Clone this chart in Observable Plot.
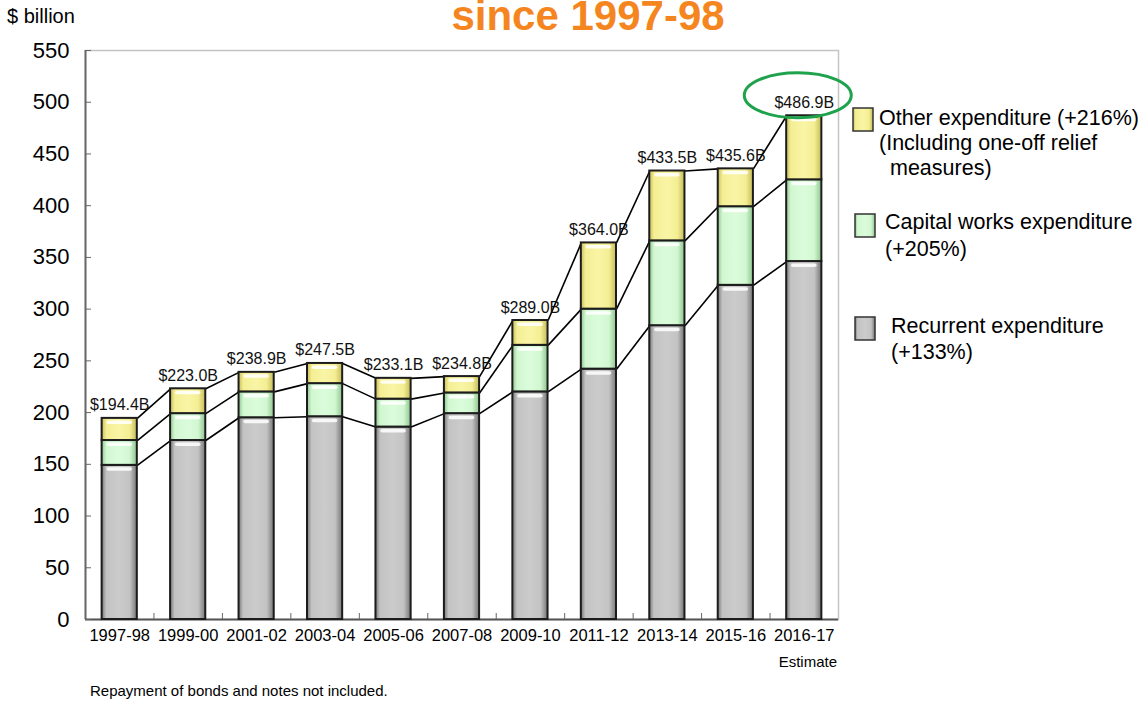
<!DOCTYPE html>
<html>
<head>
<meta charset="utf-8">
<script src="https://cdn.jsdelivr.net/npm/d3@7"></script>
<script src="https://cdn.jsdelivr.net/npm/@observablehq/plot@0.6"></script>
<style>
  body { margin: 0; background: #fff; font-family: "Liberation Sans", Arial, sans-serif; }
  #chart svg { display: block; }
</style>
</head>
<body>
<div id="chart"></div>
<script>
// ---- data ----
const years = ["1997-98", "1999-00", "2001-02", "2003-04", "2005-06", "2007-08",
               "2009-10", "2011-12", "2013-14", "2015-16", "2016-17"];
const recurrent = [149, 173, 195, 196, 186, 199, 220, 242, 284, 323, 346];
const capital   = [24, 26, 25, 32, 27, 20, 45, 58, 82, 76, 79];
const other     = [21.4, 24.0, 18.9, 19.5, 20.1, 15.8, 24.0, 64.0, 67.5, 36.6, 61.9];
const totals    = [194.4, 223.0, 238.9, 247.5, 233.1, 234.8, 289.0, 364.0, 433.5, 435.6, 486.9];
const yTicks = [0, 50, 100, 150, 200, 250, 300, 350, 400, 450, 500, 550];
const seriesKeys = ["rec", "cap", "oth"];
const legendItems = [
  {key: "oth", lines: ["Other expenditure (+216%)", "(Including one-off relief", "measures)"]},
  {key: "cap", lines: ["Capital works expenditure", "(+205%)"]},
  {key: "rec", lines: ["Recurrent expenditure", "(+133%)"]}
];
const titleText = "since 1997-98";
const unitText = "$ billion";
const noteText = "Repayment of bonds and notes not included.";
const estimateText = "Estimate";

// ---- derived tables ----
const halfBar = 0.257;
const values = {rec: recurrent, cap: capital, oth: other};
const rows = [];
const cum = {rec: [], cap: [], oth: []};
years.forEach((yr, i) => {
  let base = 0;
  seriesKeys.forEach(k => {
    const v = values[k][i];
    rows.push({i, key: k, y1: base, y2: base + v});
    base += v;
    cum[k].push(base);
  });
});
const links = [];
seriesKeys.forEach(k => {
  for (let i = 0; i < years.length - 1; i++) {
    links.push({x1: i + halfBar, x2: i + 1 - halfBar, y1: cum[k][i], y2: cum[k][i + 1]});
  }
});
const boundaries = d3.range(years.length - 1).map(i => i + 0.5);

const barMark = k => Plot.rect(rows.filter(d => d.key === k), {
  x1: d => d.i - halfBar, x2: d => d.i + halfBar, y1: "y1", y2: "y2",
  fill: `url(#grad-${k})`, stroke: "#1c1c1c", strokeWidth: 2
});

const plot = Plot.plot({
  width: 1148,
  height: 704,
  marginTop: 50,
  marginRight: 310,
  marginBottom: 85,
  marginLeft: 85,
  x: {type: "linear", domain: [-0.5, 10.5]},
  y: {domain: [0, 550]},
  style: {fontFamily: "'Liberation Sans', Arial, sans-serif", color: "#000", background: "#fff"},
  marks: [
    Plot.frame({stroke: "#c4c4c4", strokeWidth: 1.5}),
    Plot.ruleX([-0.5], {stroke: "#6a6a6a", strokeWidth: 2}),
    Plot.ruleY([0], {stroke: "#555", strokeWidth: 2}),
    Plot.axisY(yTicks, {anchor: "left", tickSize: 6, dx: 6, tickFormat: () => "", stroke: "#666", label: null}),
    Plot.axisY(yTicks, {anchor: "left", tickSize: 0, tickPadding: 16, fontSize: 22, label: null, fill: "#000"}),
    Plot.axisX(boundaries, {anchor: "bottom", tickSize: 6, dy: -6, tickFormat: () => "", stroke: "#666", label: null}),
    Plot.axisX(d3.range(years.length), {anchor: "bottom", tickSize: 0, tickPadding: 10, fontSize: 16.5,
      tickFormat: i => years[i], label: null, fill: "#000"}),
    Plot.link(links, {x1: "x1", x2: "x2", y1: "y1", y2: "y2", stroke: "#000", strokeWidth: 1.6}),
    barMark("rec"),
    barMark("cap"),
    barMark("oth"),
    Plot.rect(rows, {
      x1: d => d.i - halfBar + 0.07, x2: d => d.i + halfBar - 0.07, y1: "y2", y2: "y2",
      insetTop: 2.5, insetBottom: -6, fill: "#fff", fillOpacity: 0.85, rx: 2
    }),
    Plot.text(totals, {
      x: (d, i) => i, y: d => d, text: d => `$${d.toFixed(1)}B`,
      dy: -8, lineAnchor: "bottom", fontSize: 16, fill: "#111"
    })
  ]
});

document.getElementById("chart").appendChild(plot);

// ---- decorations added to the same SVG ----
const svg = d3.select(plot);
const defs = svg.insert("defs", ":first-child");
function addGrad(id, edge, base, light) {
  const g = defs.append("linearGradient").attr("id", id)
    .attr("x1", 0).attr("x2", 1).attr("y1", 0).attr("y2", 0);
  [[0, edge], [0.13, base], [0.5, light], [0.8, base], [1, edge]]
    .forEach(([o, c]) => g.append("stop").attr("offset", o).attr("stop-color", c));
}
addGrad("grad-rec", "#767676", "#c3c3c3", "#cbcbcb");
addGrad("grad-cap", "#8ec58e", "#d1f7d1", "#dbfcdb");
addGrad("grad-oth", "#c5bb5a", "#f4ee93", "#f9f5a6");

const sx = plot.scale("x"), sy = plot.scale("y");
const last = years.length - 1;
svg.append("ellipse")
  .attr("cx", sx.apply(last) - 6)
  .attr("cy", sy.apply(totals[last]) - 20)
  .attr("rx", 53.5).attr("ry", 22.5)
  .attr("fill", "none").attr("stroke", "#1ea24c").attr("stroke-width", 3);

const font = "'Liberation Sans', Arial, sans-serif";
const addText = (t, x, y, size, anchor, extra = {}) => {
  const el = svg.append("text").text(t)
    .attr("x", x).attr("y", y).attr("text-anchor", anchor)
    .attr("font-family", font).attr("font-size", size).attr("fill", extra.fill || "#000");
  if (extra.bold) el.attr("font-weight", "bold");
  return el;
};
addText(titleText, 588, 30, 42, "middle", {bold: true, fill: "#f5861f"});
addText(unitText, 7, 23, 20, "start");
addText(noteText, 90, 696, 15, "start");
addText(estimateText, 837, 667, 15, "end");

// legend
const legendLayout = [
  {box: [853, 108], text: [[879, 125], [879, 150], [890, 175]]},
  {box: [855, 214], text: [[885, 229], [885, 256]]},
  {box: [855, 317], text: [[891, 333], [891, 359]]}
];
legendItems.forEach((item, j) => {
  const L = legendLayout[j];
  svg.append("rect").attr("x", L.box[0]).attr("y", L.box[1]).attr("width", 20).attr("height", 23)
    .attr("fill", `url(#grad-${item.key})`).attr("stroke", "#333").attr("stroke-width", 1.5);
  item.lines.forEach((t, n) => addText(t, L.text[n][0], L.text[n][1], 21.5, "start"));
});
</script>
</body>
</html>
